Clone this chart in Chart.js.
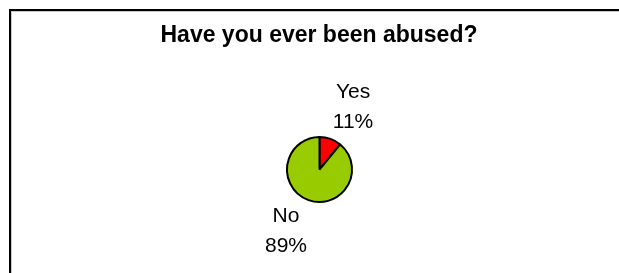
<!DOCTYPE html>
<html>
<head>
<meta charset="utf-8">
<script src="https://cdn.jsdelivr.net/npm/chart.js@4/dist/chart.umd.min.js"></script>
<style>
  body { margin: 0; background: #fff; }
  #wrap { width: 619px; height: 273px; position: relative; }
</style>
</head>
<body>
<div id="wrap"><canvas id="canvas"></canvas></div>
<script>
var chartTitle = 'Have you ever been abused?';
var answers = ['Yes', 'No'];
var percents = [11, 89];
var sliceColors = ['#FF0000', '#99CC00'];

// frame, title and the outside labels
var decor = {
  id: 'decor',
  afterDraw: function(chart) {
    var ctx = chart.ctx;
    ctx.save();
    ctx.fillStyle = '#000';
    ctx.fillRect(9, 9, 610, 2);
    ctx.fillRect(9, 9, 2, 264);
    ctx.fillStyle = '#c8c8c8';
    ctx.fillRect(11, 11, 608, 1);
    ctx.fillRect(11, 11, 1, 262);

    ctx.fillStyle = '#000';
    ctx.textAlign = 'center';
    ctx.textBaseline = 'alphabetic';
    ctx.font = 'bold 23px "Liberation Sans", Arial, sans-serif';
    ctx.fillText(chartTitle, 319, 42);

    ctx.textBaseline = 'middle';
    ctx.font = '21px "Liberation Sans", Arial, sans-serif';
    var meta = chart.getDatasetMeta(0);
    meta.data.forEach(function(arc, i) {
      var p = arc.getProps(['x', 'y', 'startAngle', 'endAngle', 'outerRadius']);
      var mid = (p.startAngle + p.endAngle) / 2 + 0.15;
      var d = p.outerRadius + 38;
      var cx = p.x + Math.cos(mid) * d;
      var cy = p.y + Math.sin(mid) * d;
      ctx.fillText(answers[i], cx, cy - 15);
      ctx.fillText(percents[i] + '%', cx, cy + 15);
    });
    ctx.restore();
  }
};

var ctxP = document.getElementById('canvas').getContext('2d');
var mychart = new Chart(ctxP, {
  type: 'pie',
  data: {
    labels: answers,
    datasets: [{
      data: percents,
      backgroundColor: sliceColors,
      borderColor: '#000',
      borderWidth: 2
    }]
  },
  options: {
    responsive: true,
    maintainAspectRatio: false,
    animation: false,
    layout: { padding: { left: 286, right: 266, top: 136, bottom: 70 } },
    plugins: {
      legend: { display: false },
      title: { display: false },
      tooltip: { enabled: false }
    }
  },
  plugins: [decor]
});
</script>
</body>
</html>
